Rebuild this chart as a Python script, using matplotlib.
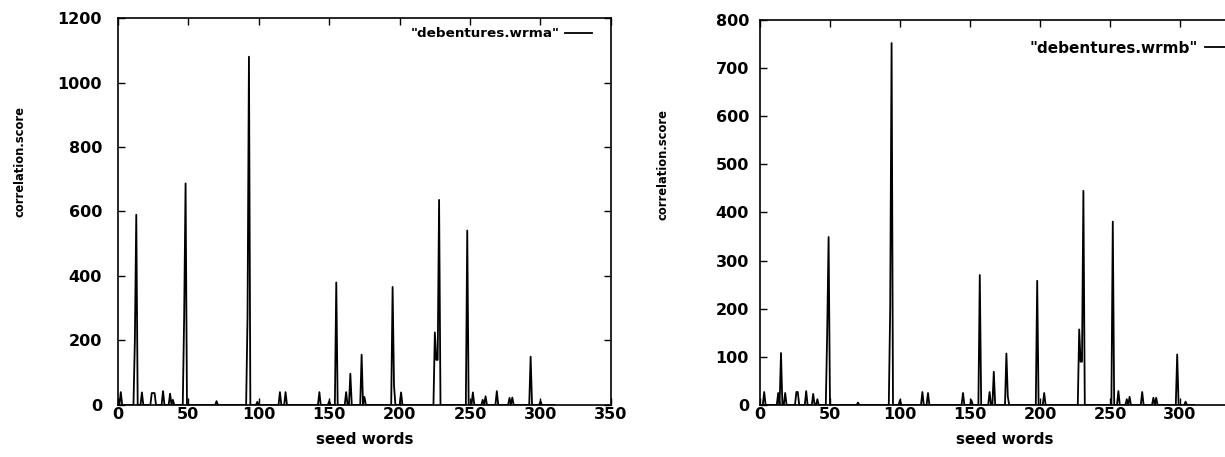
import numpy as np
import matplotlib.pyplot as plt

plt.rcParams["font.family"] = ["DejaVu Sans"]

N_SEEDS = 311
seeds = np.arange(N_SEEDS)

# "debentures.wrma": seed word index -> correlation score (all others 0)
peak_idx_a = [2, 12, 13, 17, 24, 25, 26, 32, 37, 39, 47, 48, 70, 92, 93, 99,
              115, 119, 143, 150, 155, 162, 165, 173, 175, 195, 196, 201,
              225, 226, 227, 228, 248, 252, 259, 261, 269, 278, 280, 293, 300]
peak_val_a = [40, 200, 590, 39, 37, 37, 37, 43, 35, 16, 275, 687, 12, 275, 1080, 10,
              40, 40, 40, 12, 380, 40, 97, 156, 25, 366, 60, 39,
              225, 140, 140, 636, 541, 39, 16, 27, 43, 22, 23, 150, 12]

# "debentures.wrmb"
peak_idx_b = [3, 13, 15, 18, 26, 27, 33, 38, 41, 48, 49, 70, 93, 94, 100,
              116, 120, 145, 151, 157, 164, 167, 176, 177, 198, 203,
              228, 229, 230, 231, 252, 256, 262, 264, 273, 281, 283, 298, 304]
peak_val_b = [27, 25, 108, 25, 27, 27, 29, 23, 12, 150, 349, 5, 200, 752, 10,
              27, 25, 25, 10, 270, 27, 69, 107, 18, 258, 25,
              157, 90, 90, 445, 381, 29, 12, 17, 27, 15, 15, 105, 7]

score_a = np.zeros(N_SEEDS)
score_a[peak_idx_a] = peak_val_a
score_b = np.zeros(N_SEEDS)
score_b[peak_idx_b] = peak_val_b

fig = plt.figure(figsize=(12.25, 4.57), dpi=100)
ax1 = fig.add_axes([0.0963, 0.1138, 0.4024, 0.8468])
ax2 = fig.add_axes([0.6204, 0.1138, 0.4000, 0.8425])

panels = [
    (ax1, score_a, '"debentures.wrma"', 1200, 200, 350, 11.5, 9.7, (0.9615, 0.9587), 2.0, 0.37),
    (ax2, score_b, '"debentures.wrmb"', 800, 100, 300, 8.0, 11.0, (0.963, 0.927), 1.76, 0.45),
]

for ax, score, name, ymax, ystep, xlast, ypad, leg_fs, anchor, hlen, htpad in panels:
    ax.plot(seeds, score, color="black", lw=1.3, label=name)
    ax.set_xlim(0, 350)
    ax.set_ylim(0, ymax)
    ax.set_xticks(np.arange(0, xlast + 1, 50))
    ax.set_yticks(np.arange(0, ymax + 1, ystep))
    ax.tick_params(direction="in", top=True, right=True, length=5, width=1.0)
    ax.tick_params(axis="x", pad=1.5)
    ax.tick_params(axis="y", pad=ypad)
    for lab in ax.get_xticklabels() + ax.get_yticklabels():
        lab.set_fontsize(11.5)
        lab.set_fontweight("bold")
    for sp in ax.spines.values():
        sp.set_linewidth(1.2)
    ax.set_xlabel("seed words", fontsize=11, fontweight="bold", labelpad=7)
    ax.legend(loc="center right", bbox_to_anchor=anchor, frameon=False,
              markerfirst=False, borderpad=0, borderaxespad=0,
              handlelength=hlen, handletextpad=htpad,
              prop={"size": leg_fs, "weight": "bold"})

fig.text(20 / 1225, 1 - 162 / 457, "correlation.score", rotation=90,
         ha="center", va="center", fontsize=8.3, fontweight="bold")
fig.text(663 / 1225, 1 - 165 / 457, "correlation.score", rotation=90,
         ha="center", va="center", fontsize=8.3, fontweight="bold")

fig.savefig("out.png", dpi=100, facecolor="white")
